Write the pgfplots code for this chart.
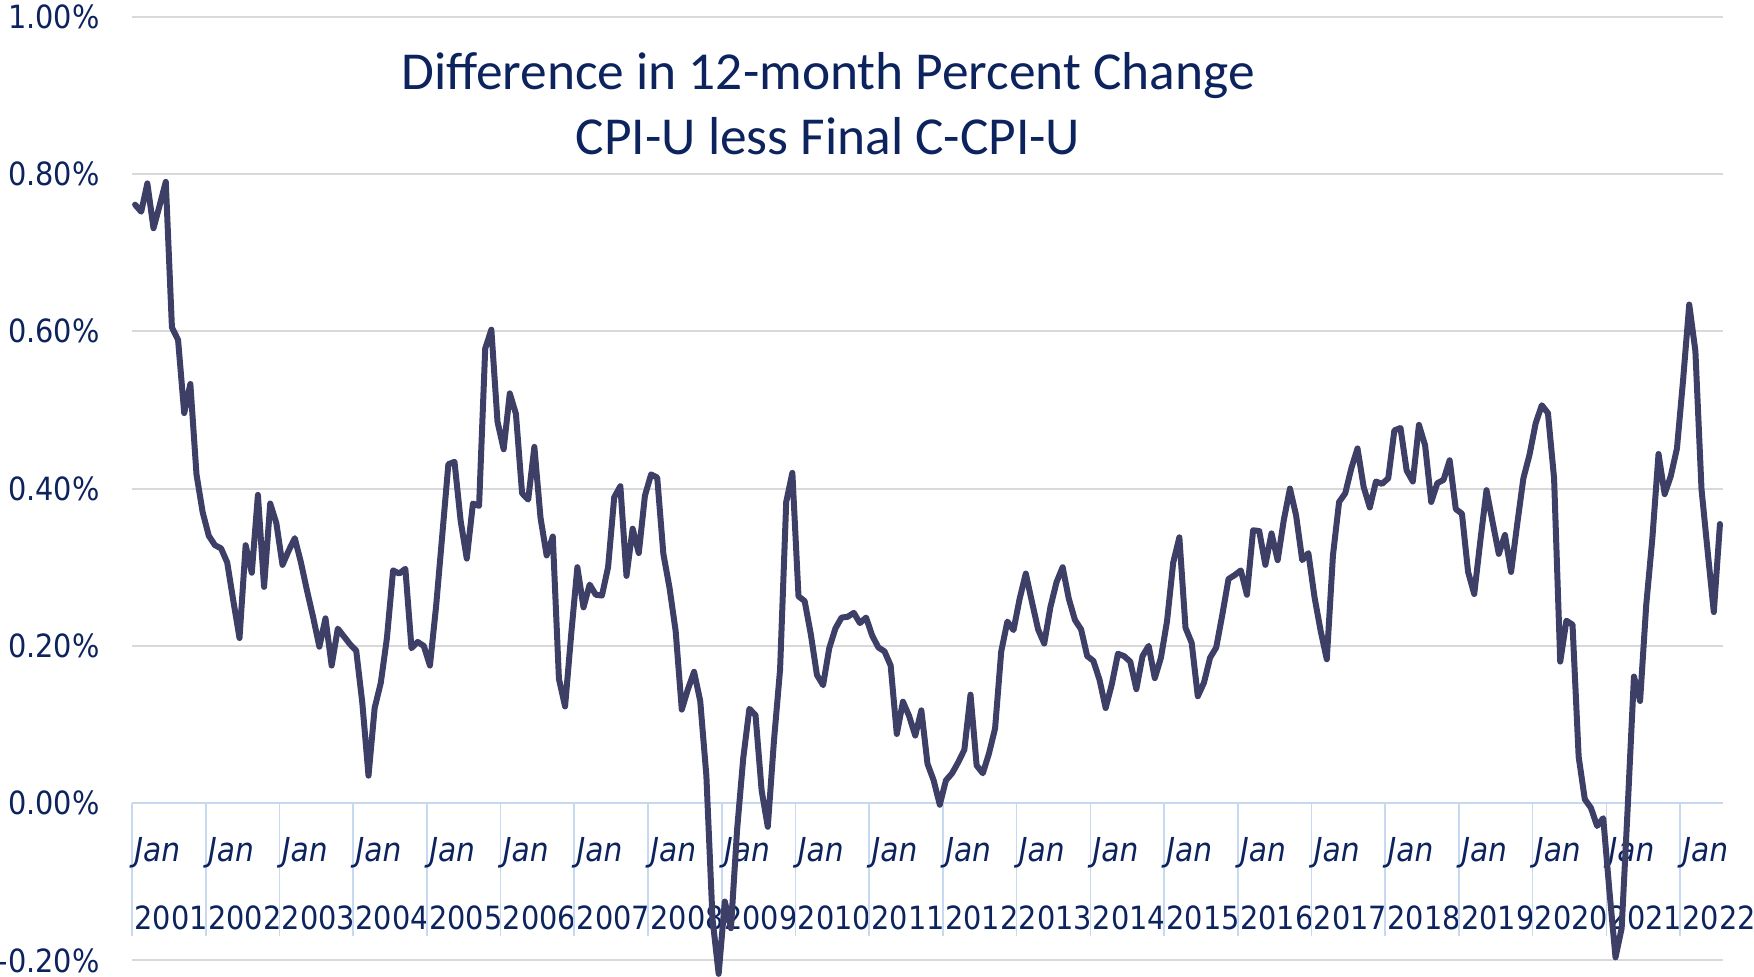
\documentclass[border=0pt]{standalone}
\usepackage{pgfplots}
\usepackage{pgfplotstable}
\pgfplotsset{compat=1.18}
\usepackage{fontspec}
\setmainfont{DejaVu Sans}[FakeStretch=0.9]
\newfontfamily\titlefont{Carlito}
\definecolor{txt}{RGB}{12,35,94}
\definecolor{ln}{RGB}{62,63,102}
\definecolor{grd}{RGB}{217,217,217}
\definecolor{sep}{RGB}{198,217,241}

\pgfplotstableread{
i v
0 0.761
1 0.752
2 0.788
3 0.731
4 0.760
5 0.790
6 0.605
7 0.589
8 0.496
9 0.533
10 0.418
11 0.370
12 0.340
13 0.328
14 0.324
15 0.306
16 0.257
17 0.210
18 0.328
19 0.293
20 0.392
21 0.275
22 0.381
23 0.356
24 0.303
25 0.321
26 0.337
27 0.306
28 0.270
29 0.236
30 0.199
31 0.235
32 0.175
33 0.222
34 0.212
35 0.202
36 0.194
37 0.127
38 0.035
39 0.121
40 0.153
41 0.210
42 0.296
43 0.292
44 0.298
45 0.197
46 0.205
47 0.200
48 0.175
49 0.250
50 0.340
51 0.431
52 0.434
53 0.359
54 0.311
55 0.381
56 0.378
57 0.578
58 0.602
59 0.485
60 0.450
61 0.521
62 0.495
63 0.394
64 0.386
65 0.453
66 0.363
67 0.315
68 0.339
69 0.158
70 0.123
71 0.215
72 0.300
73 0.249
74 0.278
75 0.265
76 0.264
77 0.300
78 0.389
79 0.403
80 0.289
81 0.349
82 0.318
83 0.391
84 0.418
85 0.414
86 0.317
87 0.274
88 0.219
89 0.119
90 0.145
91 0.167
92 0.130
93 0.035
94 -0.147
95 -0.217
96 -0.125
97 -0.159
98 -0.034
99 0.057
100 0.120
101 0.112
102 0.016
103 -0.030
104 0.079
105 0.170
106 0.383
107 0.420
108 0.263
109 0.257
110 0.215
111 0.163
112 0.150
113 0.197
114 0.222
115 0.236
116 0.237
117 0.242
118 0.229
119 0.236
120 0.213
121 0.198
122 0.193
123 0.175
124 0.088
125 0.129
126 0.111
127 0.086
128 0.118
129 0.050
130 0.029
131 -0.002
132 0.029
133 0.038
134 0.052
135 0.068
136 0.138
137 0.048
138 0.038
139 0.063
140 0.095
141 0.193
142 0.231
143 0.220
144 0.260
145 0.292
146 0.256
147 0.221
148 0.203
149 0.249
150 0.281
151 0.300
152 0.260
153 0.233
154 0.221
155 0.187
156 0.181
157 0.157
158 0.121
159 0.151
160 0.190
161 0.187
162 0.180
163 0.145
164 0.187
165 0.200
166 0.159
167 0.185
168 0.232
169 0.306
170 0.338
171 0.223
172 0.204
173 0.136
174 0.153
175 0.185
176 0.198
177 0.240
178 0.285
179 0.290
180 0.296
181 0.265
182 0.347
183 0.346
184 0.303
185 0.343
186 0.309
187 0.360
188 0.400
189 0.366
190 0.309
191 0.318
192 0.262
193 0.219
194 0.183
195 0.315
196 0.383
197 0.394
198 0.426
199 0.451
200 0.402
201 0.376
202 0.409
203 0.406
204 0.413
205 0.474
206 0.477
207 0.423
208 0.409
209 0.481
210 0.455
211 0.383
212 0.407
213 0.411
214 0.436
215 0.374
216 0.368
217 0.294
218 0.266
219 0.334
220 0.398
221 0.357
222 0.317
223 0.341
224 0.294
225 0.355
226 0.413
227 0.443
228 0.483
229 0.506
230 0.496
231 0.413
232 0.180
233 0.232
234 0.227
235 0.059
236 0.005
237 -0.006
238 -0.029
239 -0.019
240 -0.111
241 -0.196
242 -0.159
243 -0.003
244 0.161
245 0.130
246 0.252
247 0.337
248 0.444
249 0.393
250 0.416
251 0.451
252 0.538
253 0.634
254 0.575
255 0.399
256 0.320
257 0.243
258 0.355
}\datatable

\begin{document}
\begin{tikzpicture}
\begin{axis}[
  scale only axis, width=795.5pt, height=471.9pt,
  xmin=-0.5, xmax=258.5, ymin=-0.2, ymax=1.0,
  axis line style={draw=none},
  tick style={draw=none},
  major tick length=0pt,
  xtick=\empty,
  ytick={-0.2,0,0.2,0.4,0.6,0.8,1.0},
  yticklabels={-0.20\%,0.00\%,0.20\%,0.40\%,0.60\%,0.80\%,1.00\%},
  yticklabel style={anchor=east, inner sep=0pt, xshift=-16pt,
    font=\fontsize{16}{19}\selectfont, text=txt},
  ymajorgrids, grid style={grd, line width=1pt},
  clip=false,
]
\draw[sep, line width=1pt] (axis cs:-0.5,0) -- (axis cs:258.5,0);
\pgfplotsinvokeforeach{0,...,21}{
  \draw[sep, line width=0.8pt] (axis cs:{12*#1-0.5},0) -- ++(0pt,-66.5pt);
  \node[anchor=west, inner sep=0pt, text=txt,
        font=\fontsize{16.5}{19}\selectfont\itshape]
        at ([xshift=1pt,yshift=-25pt]axis cs:{12*#1-0.5},0) {Jan};
  \node[anchor=west, inner sep=0pt, text=txt,
        font=\fontsize{16}{19}\selectfont]
        at ([xshift=1pt,yshift=-57.3pt]axis cs:{12*#1-0.5},0) {\the\numexpr2001+#1\relax};
}
\addplot[ln, line width=3pt, line join=round, line cap=round]
  table[x=i, y=v]{\datatable};
\node[align=center, text=txt, inner sep=0pt,
      font=\titlefont\fontsize{26.7}{32.5}\selectfont]
      at (rel axis cs:0.4375,0.9074)
      {Difference in 12-month Percent Change\\CPI-U less Final C-CPI-U};
\coordinate (O) at (rel axis cs:0,0);
\end{axis}
\pgfresetboundingbox
\path[use as bounding box] (O) ++(-66pt,-8.25pt) rectangle ++(877pt,488.5pt);
\end{tikzpicture}
\end{document}
